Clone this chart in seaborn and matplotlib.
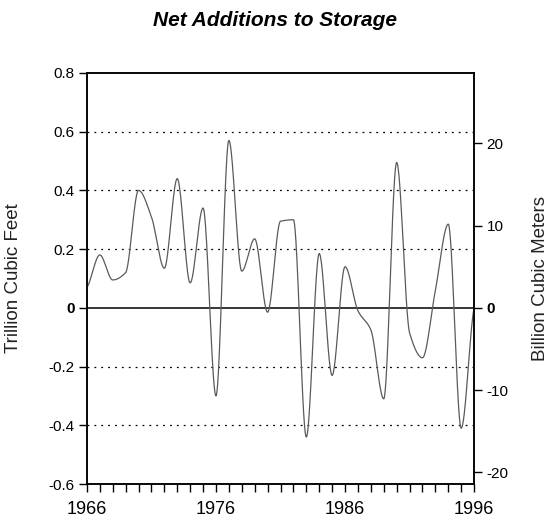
import numpy as np
import pandas as pd
import matplotlib
matplotlib.use("Agg")
import matplotlib.pyplot as plt
import seaborn as sns

# Net additions to storage, trillion cubic feet
years = list(range(1966, 1997))
tcf = [0.07, 0.18, 0.095, 0.12, 0.40, 0.31, 0.135, 0.44, 0.085, 0.34,
       -0.30, 0.57, 0.125, 0.235, -0.015, 0.295, 0.30, -0.44, 0.185, -0.23,
       0.14, -0.01, -0.075, -0.31, 0.495, -0.085, -0.17, 0.06, 0.285, -0.41,
       0.0]

left_ticks = [-0.6, -0.4, -0.2, 0, 0.2, 0.4, 0.6, 0.8]
left_labels = ["-0.6", "-0.4", "-0.2", "0", "0.2", "0.4", "0.6", "0.8"]
right_ticks = [-20, -10, 0, 10, 20]
right_labels = ["-20", "-10", "0", "10", "20"]
year_labels = [1966, 1976, 1986, 1996]
bcm_per_tcf = 35.7  # scale used by the right axis


# monotone cubic (pchip) so the line is smooth but flat at the peaks
def pchip(x, y, xs):
    x = np.asarray(x, float)
    y = np.asarray(y, float)
    h = np.diff(x)
    delta = np.diff(y) / h
    n = len(x)
    d = np.zeros(n)
    for k in range(1, n - 1):
        if delta[k - 1] * delta[k] > 0:
            w1 = 2 * h[k] + h[k - 1]
            w2 = h[k] + 2 * h[k - 1]
            d[k] = (w1 + w2) / (w1 / delta[k - 1] + w2 / delta[k])
    d[0] = delta[0] / 2
    d[-1] = delta[-1] / 2
    idx = np.clip(np.searchsorted(x, xs) - 1, 0, n - 2)
    t = (xs - x[idx]) / h[idx]
    h00 = 2 * t ** 3 - 3 * t ** 2 + 1
    h10 = t ** 3 - 2 * t ** 2 + t
    h01 = -2 * t ** 3 + 3 * t ** 2
    h11 = t ** 3 - t ** 2
    return (h00 * y[idx] + h10 * h[idx] * d[idx]
            + h01 * y[idx + 1] + h11 * h[idx] * d[idx + 1])


xs = np.linspace(years[0], years[-1], 1500)
df = pd.DataFrame({"year": xs, "tcf": pchip(years, tcf, xs)})

sns.set_style("white")
plt.rcParams["font.family"] = ["Liberation Sans", "DejaVu Sans"]
plt.rcParams["text.color"] = "black"
plt.rcParams["xtick.color"] = "black"
plt.rcParams["ytick.color"] = "black"

fig = plt.figure(figsize=(5.5, 5.21), dpi=100)
ax = fig.add_axes([0.158, 0.071, 0.704, 0.789])

for g in [-0.4, -0.2, 0.2, 0.4, 0.6]:
    ax.axhline(g, color="black", linestyle=(0, (1.5, 4)), linewidth=0.9, zorder=1)
ax.axhline(0, color="black", linewidth=1.1, zorder=1)

sns.lineplot(data=df, x="year", y="tcf", ax=ax, color="#5a5a5a", linewidth=0.9, zorder=3)

ax.set_xlim(1966, 1996)
ax.set_ylim(-0.6, 0.8)
ax.set_xticks(year_labels)
ax.set_xticklabels([str(y) for y in year_labels], fontsize=13)
ax.set_xticks(years, minor=True)
ax.set_yticks(left_ticks)
ax.set_yticklabels(left_labels, fontsize=11)
ax.get_yticklabels()[3].set_fontweight("bold")
ax.tick_params(axis="x", which="both", direction="out", length=6, width=1,
               bottom=True, pad=6, color="black")
ax.tick_params(axis="y", direction="out", length=6, width=1, left=True, pad=3)
ax.set_xlabel("")
ax.set_ylabel("Trillion Cubic Feet", fontsize=13.5, color="#222222", labelpad=19)
for s in ax.spines.values():
    s.set_color("black")
    s.set_linewidth(1.1)

ax2 = ax.twinx()
ax2.set_ylim(-0.6 * bcm_per_tcf, 0.8 * bcm_per_tcf)
ax2.set_yticks(right_ticks)
ax2.set_yticklabels(right_labels, fontsize=11)
ax2.get_yticklabels()[2].set_fontweight("bold")
ax2.tick_params(axis="y", direction="out", length=6, width=1, right=True, pad=3)
ax2.set_ylabel("Billion Cubic Meters", fontsize=13.5, color="#222222", labelpad=17)
ax2.grid(False)
for s in ax2.spines.values():
    s.set_color("black")
    s.set_linewidth(1.1)

fig.text(0.5, 0.96, "Net Additions to Storage", ha="center", va="center",
         fontsize=15, fontweight="bold", fontstyle="italic")

plt.savefig("out.png", dpi=100)
